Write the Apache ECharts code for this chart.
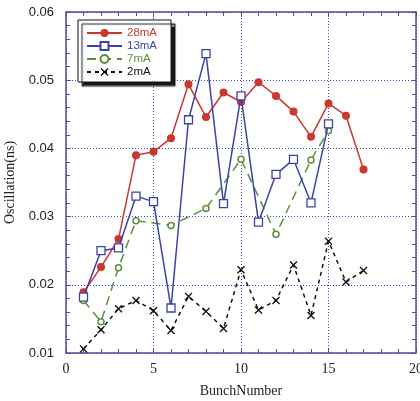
<!DOCTYPE html>
<html>
<head>
<meta charset="utf-8">
<script src="https://cdn.jsdelivr.net/npm/echarts@6/dist/echarts.min.js"></script>
<style>html,body{margin:0;padding:0;background:#fff}#c{width:420px;height:401px}</style>
</head>
<body>
<div id="c"></div>
<script>
const bunch28 = [1,2,3,4,5,6,7,8,9,10,11,12,13,14,15,16,17];
const val28 = [0.0189,0.0226,0.0267,0.0390,0.0395,0.0415,0.0494,0.0446,0.0482,0.0468,0.0497,0.0477,0.0454,0.0417,0.0466,0.0448,0.0369];
const bunch13 = [1,2,3,4,5,6,7,8,9,10,11,12,13,14,15];
const val13 = [0.0182,0.0250,0.0254,0.0330,0.0322,0.0166,0.0442,0.0539,0.0319,0.0477,0.0292,0.0362,0.0384,0.0320,0.0436];
const bunch7 = [1,2,3,4,6,8,10,12,14,15];
const val7 = [0.0177,0.0146,0.0225,0.0294,0.0287,0.0312,0.0384,0.0274,0.0383,0.0426];
const bunch2 = [1,2,3,4,5,6,7,8,9,10,11,12,13,14,15,16,17];
const val2 = [0.0106,0.0134,0.0165,0.0177,0.0162,0.0133,0.0183,0.0161,0.0136,0.0222,0.0163,0.0177,0.0229,0.0155,0.0264,0.0204,0.0221];
const seriesNames = ['28mA','13mA','7mA','2mA'];
const xTicks = [0,5,10,15,20];
const yTicks = [0.01,0.02,0.03,0.04,0.05,0.06];

const zip = (xs, ys) => xs.map((x,i)=>[x, ys[i]]);
const axisColor = '#4b4f9c';
const colors = ['#c8382e','#3b43a8','#5b8f3a','#111111'];
const xMark = 'path://M0,1.2 L1.2,0 L5,3.8 L8.8,0 L10,1.2 L6.2,5 L10,8.8 L8.8,10 L5,6.2 L1.2,10 L0,8.8 L3.8,5 Z';

const chart = echarts.init(document.getElementById('c'), null, {renderer:'canvas'});
const baseX = {
  type:'value', min:xTicks[0], max:xTicks[xTicks.length-1], interval:5,
  axisLine:{show:true, onZero:false, lineStyle:{color:axisColor, width:1.5}},
  axisTick:{show:true, inside:true, length:5, lineStyle:{color:axisColor}},
  minorTick:{show:true, splitNumber:5, length:4, lineStyle:{color:axisColor}},
};
const baseY = {
  type:'value', min:yTicks[0], max:yTicks[yTicks.length-1], interval:0.01,
  axisLine:{show:true, onZero:false, lineStyle:{color:axisColor, width:1.5}},
  axisTick:{show:true, inside:true, length:5, lineStyle:{color:axisColor}},
  minorTick:{show:true, splitNumber:5, length:4, lineStyle:{color:axisColor}},
};
chart.setOption({
  animation:false,
  backgroundColor:'#fff',
  grid:{left:66, right:4, top:12, bottom:48, containLabel:false, outerBoundsMode:'none'},
  xAxis:[
    Object.assign({}, baseX, {
      position:'bottom',
      name:'BunchNumber', nameLocation:'middle', nameGap:31,
      nameTextStyle:{fontFamily:'Liberation Serif', fontSize:14, color:'#222'},
      axisLabel:{fontFamily:'Liberation Serif', fontSize:14, color:'#222', margin:9},
      splitLine:{show:true, lineStyle:{color:'#3b43c0', type:[1,2], width:1}}
    }),
    Object.assign({}, baseX, {position:'top', axisLabel:{show:false}, splitLine:{show:false}})
  ],
  yAxis:[
    Object.assign({}, baseY, {
      position:'left',
      name:'Oscillation(ns)', nameLocation:'middle', nameGap:47,
      nameTextStyle:{fontFamily:'Liberation Serif', fontSize:14, color:'#222'},
      axisLabel:{fontFamily:'Liberation Sans', fontSize:13, color:'#222', margin:12,
        formatter:v=>v.toFixed(2)},
      splitLine:{show:true, lineStyle:{color:'#3b43c0', type:[1,2], width:1}}
    }),
    Object.assign({}, baseY, {position:'right', axisLabel:{show:false}, splitLine:{show:false}})
  ],
  legend:{
    left:78, top:20, orient:'vertical', itemGap:1, itemWidth:35, itemHeight:10,
    padding:[7,14,4,8],
    backgroundColor:'#fff', borderColor:'#111', borderWidth:1,
    shadowColor:'rgba(0,0,0,0.9)', shadowBlur:1, shadowOffsetX:4, shadowOffsetY:4,
    textStyle:{fontFamily:'Liberation Sans', fontSize:11.5},
    data:seriesNames.map((n,i)=>({name:n, textStyle:{color:colors[i]}}))
  },
  series:[
    {name:seriesNames[0], type:'line', data:zip(bunch28,val28), symbol:'circle', symbolSize:8,
      lineStyle:{color:colors[0], width:1.5}, itemStyle:{color:colors[0]}, z:4},
    {name:seriesNames[1], type:'line', data:zip(bunch13,val13), symbol:'rect', symbolSize:8,
      lineStyle:{color:colors[1], width:1.5}, itemStyle:{color:'#fff', borderColor:colors[1], borderWidth:1.3}, z:5},
    {name:seriesNames[2], type:'line', data:zip(bunch7,val7), symbol:'circle', symbolSize:6,
      lineStyle:{color:colors[2], width:1.5, type:[9,6]}, itemStyle:{color:'#fff', borderColor:colors[2], borderWidth:1.5}, z:3},
    {name:seriesNames[3], type:'line', data:zip(bunch2,val2), symbol:xMark, symbolSize:8,
      lineStyle:{color:colors[3], width:1.5, type:[4,4]}, itemStyle:{color:colors[3]}, z:2}
  ]
});
</script>
</body>
</html>
